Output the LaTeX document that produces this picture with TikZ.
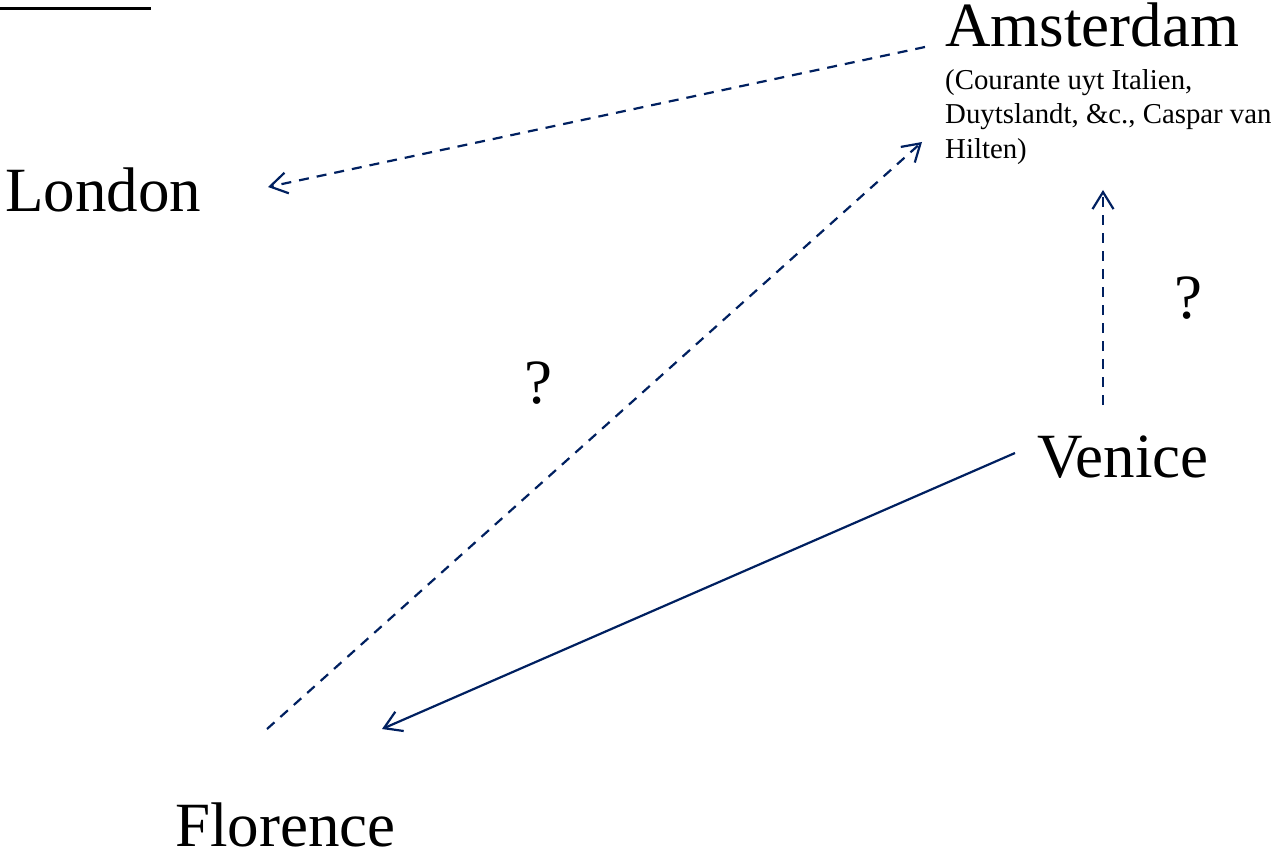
\documentclass[tikz,border=0pt]{standalone}
\usepackage{fontspec}
\setmainfont{Liberation Serif}
\usetikzlibrary{arrows.meta}

\definecolor{navy}{RGB}{0,32,96}

\begin{document}
\begin{tikzpicture}[x=1pt, y=-1pt,
  city/.style={anchor=base west, inner sep=0pt, font=\fontsize{63}{70}\selectfont},
  note/.style={anchor=north west, inner sep=0pt, align=left, font=\fontsize{28.8}{34.5}\selectfont},
  route/.style={draw=navy, line width=2.2pt, arrows={-Straight Barb[width=21pt,length=17pt]}},
  guess/.style={route, dash pattern=on 10pt off 8pt}]
\useasboundingbox (0,0) rectangle (1274,850);

% title rule, cut off at the top
\draw [line width=3pt] (0,8.5) -- (151,8.5);

% cities
\node [city] (ams) at (945,47) {Amsterdam};
\node [note] (ams-note) at (945,69) {(Courante uyt Italien,\\Duytslandt, \&c., Caspar van\\Hilten)};
\node [city] (lon) at (5,212) {London};
\node [city] (ven) at (1037,477) {Venice};
\node [city] (flo) at (175,846) {Florence};

% uncertain routes
\node [city] (q1) at (524,403) {?};
\node [city] (q2) at (1174,318) {?};

% end points of the routes
\coordinate (ams-w) at (925,47);
\coordinate (ams-sw) at (922,142);
\coordinate (ams-s) at (1103,190);
\coordinate (lon-e) at (268,187);
\coordinate (ven-n) at (1103,405);
\coordinate (ven-w) at (1015,453);
\coordinate (flo-nw) at (267,729);
\coordinate (flo-ne) at (382,729);

\draw [guess] (ams-w) -- (lon-e);
\draw [guess] (flo-nw) -- (ams-sw);
\draw [guess] (ven-n) -- (ams-s);
\draw [route] (ven-w) -- (flo-ne);
\end{tikzpicture}
\end{document}
